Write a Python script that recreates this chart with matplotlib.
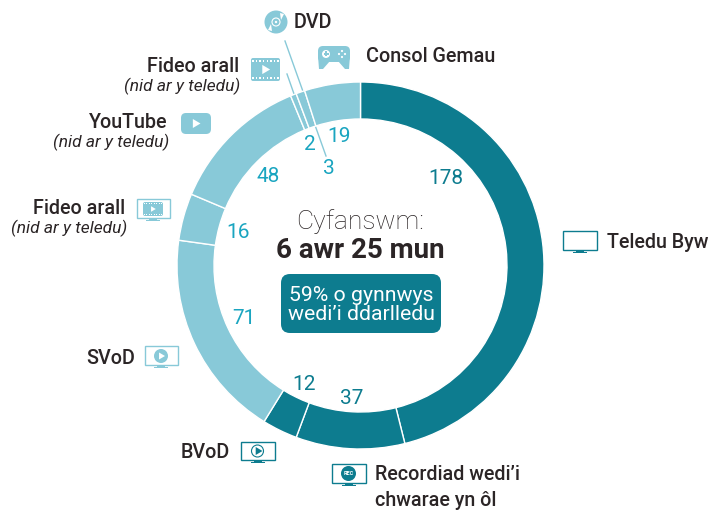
import matplotlib
matplotlib.use('Agg')
import matplotlib.pyplot as plt
from matplotlib.patches import Circle, FancyBboxPatch, Polygon, Rectangle

categories = ['Teledu Byw', 'Recordiad', 'BVoD', 'SVoD', 'Fideo arall (teledu)',
              'YouTube', 'Fideo arall', 'DVD', 'Consol Gemau']
minutes = [178, 37, 12, 71, 16, 48, 2, 3, 19]
total_text = '6 awr 25 mun'
broadcast_text = "59% o gynnwys\nwedi\u2019i ddarlledu"

DARK = '#0d7c8f'
LIGHT = '#88c9d8'
NUM_LIGHT = '#1aa5c0'
INK = '#2b2526'
slice_colours = [DARK, DARK, DARK, LIGHT, LIGHT, LIGHT, LIGHT, LIGHT, LIGHT]
num_colours = [DARK, DARK, DARK, NUM_LIGHT, NUM_LIGHT, NUM_LIGHT, NUM_LIGHT, NUM_LIGHT, NUM_LIGHT]
num_pos = [(446, 179), (352, 398), (304, 384), (244, 318), (238, 232),
           (268, 176), (310, 144), (329, 168), (339, 136)]

plt.rcParams['font.family'] = ['Roboto', 'DejaVu Sans']

fig = plt.figure(figsize=(7.14, 5.11), dpi=100)
ax = fig.add_axes([0, 0, 1, 1])

# leader lines go under the ring
ax.plot([285, 326], [41, 156], color=LIGHT, lw=1, zorder=0)
ax.plot([287, 306], [74, 128], color=LIGHT, lw=1, zorder=0)

# y runs downwards here, so this start angle is twelve o'clock
ax.pie(minutes, colors=slice_colours, startangle=-90, counterclock=True,
       center=(360.5, 265.5), radius=183.5, frame=True,
       wedgeprops=dict(width=37, edgecolor='white', linewidth=1.0))
ax.set_xlim(0, 714)
ax.set_ylim(511, 0)
ax.axis('off')

for val, pos, col in zip(minutes, num_pos, num_colours):
    ax.text(pos[0], pos[1], str(val), color=col, fontsize=15, ha='center', va='center')


def label(x, y, s, ha='left', italic=False):
    if italic:
        ax.text(x, y, s, color=INK, fontsize=12.5, style='italic', ha=ha, va='center')
    else:
        ax.text(x, y, s, color=INK, fontsize=14.2, fontweight='medium', ha=ha, va='center')


def round_box(x0, y0, x1, y1, col, r=3, z=3):
    ax.add_patch(FancyBboxPatch((x0 + r, y0 + r), x1 - x0 - 2 * r, y1 - y0 - 2 * r,
                                boxstyle='round,pad=%d,rounding_size=%d' % (r, r),
                                fc=col, ec='none', zorder=z))


def play(cx, cy, s, col='white', z=5):
    ax.add_patch(Polygon([(cx - s * 0.7, cy - s), (cx - s * 0.7, cy + s), (cx + s, cy)],
                         fc=col, ec='none', zorder=z))


def film(x0, y0, x1, y1, col, z=4):
    round_box(x0, y0, x1, y1, col, r=2, z=z)
    w = x1 - x0
    h = y1 - y0
    n = 8
    for i in range(n):
        xh = x0 + (i + 0.5) * w / n - w / n * 0.2
        for yh in (y0 + h * 0.08, y1 - h * 0.08 - h * 0.08):
            ax.add_patch(Rectangle((xh, yh), w / n * 0.4, h * 0.08, fc='white', ec='none', zorder=z + 1))
    play((x0 + x1) / 2, (y0 + y1) / 2, h * 0.2, z=z + 1)


def tv(x0, y0, x1, y1, col):
    ax.add_patch(Rectangle((x0, y0), x1 - x0, y1 - y0, fc='white', ec=col, lw=1.0, zorder=3))
    cx = (x0 + x1) / 2
    ax.add_patch(Rectangle((cx - 4, y1), 8, 1.6, fc=col, ec='none', zorder=3))
    ax.add_patch(Rectangle((cx - 7, y1 + 1.6), 14, 1.2, fc=col, ec='none', zorder=3))


# centre text
ax.text(360.5, 222, 'Cyfanswm:', color=INK, fontsize=19, fontweight='light', ha='center', va='center')
ax.text(360.5, 250, total_text, color=INK, fontsize=20, fontweight='bold', ha='center', va='center')
round_box(281, 274, 441, 333, DARK, r=9)
ax.text(361, 305, broadcast_text, color='white', fontsize=15.3, ha='center', va='center',
        linespacing=1.0, zorder=5)

# labels
label(607, 242, 'Teledu Byw')
label(375, 474, "Recordiad wedi\u2019i")
label(375, 501, 'chwarae yn \u00f4l')
label(230, 452, 'BVoD', ha='right')
label(135, 358, 'SVoD', ha='right')
label(125, 209, 'Fideo arall', ha='right')
label(127, 228, '(nid ar y teledu)', ha='right', italic=True)
label(167, 123, 'YouTube', ha='right')
label(169, 142, '(nid ar y teledu)', ha='right', italic=True)
label(239, 67, 'Fideo arall', ha='right')
label(240, 86, '(nid ar y teledu)', ha='right', italic=True)
label(294, 23, 'DVD')
label(366, 56, 'Consol Gemau')

# tv icons
tv(562.5, 231, 596.5, 250, DARK)
tv(331.5, 464, 365.5, 483, DARK)
ax.add_patch(Circle((348.5, 473.5), 7.5, fc=DARK, ec='none', zorder=4))
ax.text(348.5, 473.5, 'REC', color='white', fontsize=4, fontweight='bold', ha='center', va='center', zorder=5)
tv(240.5, 442, 274.5, 460, DARK)
ax.add_patch(Circle((257.5, 451), 6, fc='none', ec=DARK, lw=0.8, zorder=4))
play(258.5, 451, 4, col=DARK)
tv(144.5, 346.5, 177.5, 365, LIGHT)
ax.add_patch(Circle((161, 356), 7, fc=LIGHT, ec='none', zorder=4))
play(161.5, 356, 3.5)
tv(136.5, 199.5, 169.5, 218, LIGHT)
film(143, 202, 163, 216, LIGHT)

# other icons
round_box(181, 113, 211, 134, LIGHT, r=5)
play(196, 123.5, 4.5)
film(251, 58, 280, 81, LIGHT)

# dvd
ax.add_patch(Circle((276, 22), 11.5, fc=LIGHT, ec='none', zorder=3))
ax.add_patch(Polygon([(271, 24), (268, 30), (272, 31)], fc='white', ec='none', zorder=4))
ax.add_patch(Polygon([(281, 20), (284, 14), (280, 13)], fc='white', ec='none', zorder=4))
ax.add_patch(Circle((276, 22), 4, fc=LIGHT, ec='white', lw=0.8, zorder=4))
ax.add_patch(Circle((276, 22), 1.2, fc='white', ec='none', zorder=5))

# gamepad
round_box(318, 46, 350, 62, LIGHT, r=5)
ax.add_patch(Polygon([(318, 56), (319, 69), (323, 69), (330, 61), (338, 61), (345, 69), (349, 69), (350, 56)],
                     fc=LIGHT, ec='none', zorder=3))
ax.add_patch(Circle((326, 54), 4, fc='white', ec='none', zorder=4))
ax.add_patch(Rectangle((323.5, 53.4), 5, 1.2, fc=LIGHT, ec='none', zorder=5))
ax.add_patch(Rectangle((325.4, 51.5), 1.2, 5, fc=LIGHT, ec='none', zorder=5))
for dx, dy in [(-3, 0), (3, 0), (0, -3), (0, 3)]:
    ax.add_patch(Circle((342 + dx, 54 + dy), 1.1, fc='white', ec='none', zorder=4))

fig.savefig('out.png', dpi=100)
